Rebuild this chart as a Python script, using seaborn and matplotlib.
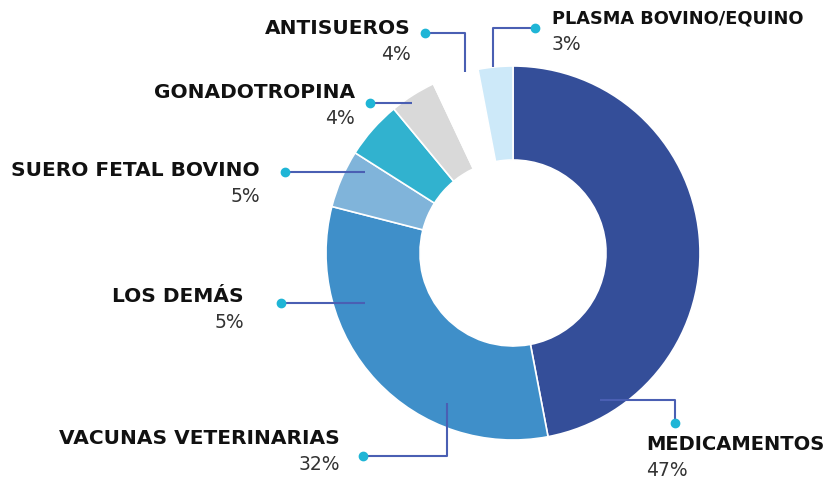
import matplotlib
matplotlib.use("Agg")
import matplotlib.pyplot as plt
import seaborn as sns

# datos
categorias = ["MEDICAMENTOS", "VACUNAS VETERINARIAS", "LOS DEMÁS", "SUERO FETAL BOVINO",
              "GONADOTROPINA", "ANTISUEROS", "PLASMA BOVINO/EQUINO"]
porcentajes = [47, 32, 5, 5, 4, 4, 3]
colores = ["#344e99", "#3f8fc9", "#80b4da", "#31b2cf", "#d9d9d9", "#ffffff", "#cde9f9"]

sns.set_theme(style="white")
plt.rcParams["font.family"] = ["DejaVu Sans"]

W, H = 830, 483
fig = plt.figure(figsize=(W / 100, H / 100), dpi=100)
ax = fig.add_axes([0, 0, 1, 1])

cx, cy, r = 513, H - 253, 187
ax.pie(porcentajes, colors=colores, startangle=90, counterclock=False,
       center=(cx, cy), radius=r, frame=True,
       wedgeprops=dict(width=94, edgecolor="white", linewidth=1.2))
ax.set_xlim(0, W)
ax.set_ylim(0, H)
ax.set_aspect("equal")
ax.axis("off")

# etiquetas: texto (x, y, alineación, tamaño) y guía (puntos en coordenadas de imagen)
layout = {
    "MEDICAMENTOS": dict(tx=646, ty=445, ha="left", fs=14, path=[(600, 400), (675, 400), (675, 423)]),
    "VACUNAS VETERINARIAS": dict(tx=340, ty=438, ha="right", fs=14.5, path=[(447, 403), (447, 456), (363, 456)]),
    "LOS DEMÁS": dict(tx=244, ty=296, ha="right", fs=14.5, path=[(365, 303), (281, 303)]),
    "SUERO FETAL BOVINO": dict(tx=260, ty=170, ha="right", fs=14.5, path=[(365, 172), (285, 172)]),
    "GONADOTROPINA": dict(tx=355, ty=92, ha="right", fs=14.5, path=[(412, 103), (370, 103)]),
    "ANTISUEROS": dict(tx=411, ty=28, ha="right", fs=14.5, path=[(465, 72), (465, 33), (425, 33)]),
    "PLASMA BOVINO/EQUINO": dict(tx=552, ty=18, ha="left", fs=12.8, path=[(493, 67), (493, 28), (535, 28)]),
}

for cat, pct in zip(categorias, porcentajes):
    lo = layout[cat]
    xs = [p[0] for p in lo["path"]]
    ys = [H - p[1] for p in lo["path"]]
    ax.plot(xs, ys, color="#4a5fb3", lw=1.5, solid_capstyle="butt", zorder=3)
    ax.plot(xs[-1], ys[-1], "o", color="#1fb5d6", ms=6, zorder=4)
    ax.text(lo["tx"], H - lo["ty"], cat, ha=lo["ha"], va="center",
            fontsize=lo["fs"], fontweight="bold", color="#111111")
    ax.text(lo["tx"], H - lo["ty"] - 26, f"{pct}%", ha=lo["ha"], va="center",
            fontsize=13.5, color="#333333")

fig.savefig("out.png", dpi=100)
